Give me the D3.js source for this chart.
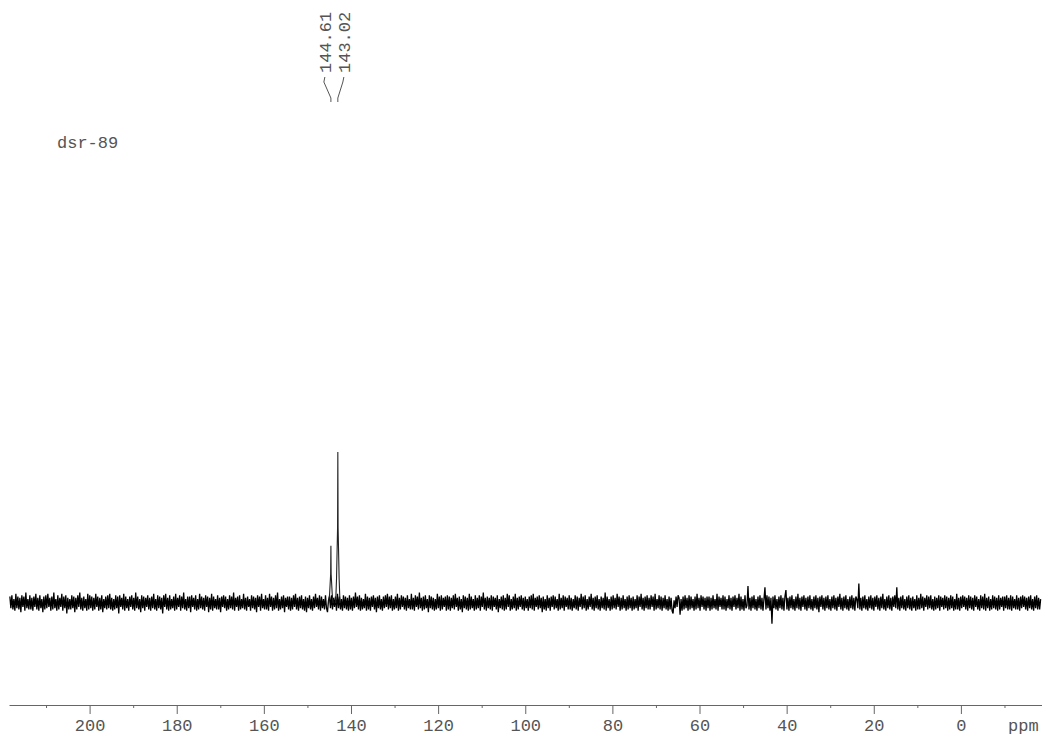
<!DOCTYPE html>
<html>
<head>
<meta charset="utf-8">
<script src="https://cdn.jsdelivr.net/npm/d3@7/dist/d3.min.js"></script>
<style>
  html, body { margin: 0; padding: 0; background: #fff; }
  svg { display: block; }
  text { font-family: "Liberation Mono", "DejaVu Sans Mono", monospace; }
</style>
</head>
<body>
<svg id="chart" width="1043" height="735"></svg>
<script>
// 13C spectrum of sample dsr-89
const sampleName = "dsr-89";
const unitLabel = "ppm";

// chemical shift window of the acquired spectrum (ppm)
const shiftStart = 218.3;
const shiftEnd = -18.3;

// baseline noise, evenly spaced across the shift window (arbitrary intensity)
const noise = [
  5,-4,6,-5,3,-6,7,-4,5,-5,4,-7,6,-3,5,-6,8,-4,3,-5,
  6,-5,4,-6,5,-3,7,-5,4,-6,6,-4,3,-7,5,-5,6,-4,7,-3,
  4,-6,5,-5,8,-4,3,-6,6,-5,4,-3,7,-6,5,-4,6,-8,4,-5,
  3,-5,6,-4,5,-7,4,-5,6,-3,8,-5,4,-6,5,-4,3,-6,7,-5,
  6,-4,5,-6,4,-5,7,-3,5,-6,4,-5,6,-7,3,-4,5,-5,6,-4,
  7,-5,4,-6,3,-5,6,-4,5,-8,6,-3,4,-5,7,-6,5,-4,3,-6,
  5,-3,6,-5,4,-6,8,-4,5,-5,3,-7,6,-4,5,-6,4,-3,6,-5,
  4,-6,5,-4,7,-5,3,-6,6,-4,5,-5,4,-8,6,-3,7,-5,4,-6,
  6,-5,3,-4,5,-6,7,-5,4,-3,6,-6,5,-4,8,-5,3,-6,5,-4,
  5,-7,6,-3,4,-5,6,-6,3,-5,7,-4,5,-5,4,-6,6,-3,5,-7,
  4,-5,7,-6,5,-4,3,-5,6,-5,4,-7,5,-3,6,-4,5,-6,3,-5,
  6,-4,5,-5,8,-6,4,-3,5,-6,6,-5,3,-4,7,-5,4,-6,5,-3,
  3,-6,6,-4,5,-5,4,-7,6,-3,5,-6,7,-4,3,-5,6,-5,4,-6,
  7,-3,5,-6,4,-5,6,-4,8,-6,3,-5,5,-4,6,-7,4,-3,5,-5,
  5,-6,4,-5,6,-3,7,-5,4,-6,5,-4,6,-5,3,-6,5,-7,4,-4,
  6,-5,3,-6,5,-4,7,-3,4,-5,6,-6,5,-4,3,-5,6,-4,-7,2,
  5,-4,6,-5,4,-3,5,-6,7,-4,5,-5,3,-6,6,-4,5,-5,4,-6,
  6,-5,4,-6,5,-4,8,-3,5,-5,6,-6,4,-5,3,-4,7,-6,5,-5,
  4,-6,5,-3,6,-5,4,-7,5,-4,6,-5,3,-6,5,-4,6,-3,7,-5,
  5,-4,6,-6,3,-5,5,-4,7,-6,4,-5,6,-3,5,-5,4,-6,6,-4,
  3,-5,7,-5,4,-6,6,-3,5,-5,8,-4,4,-6,5,-5,6,-4,3,-7,
  6,-4,5,-5,4,-6,3,-5,7,-4,5,-6,6,-5,4,-3,5,-6,6,-5,
  5,-6,4,-4,6,-5,7,-3,4,-6,5,-5,3,-7,6,-4,5,-5,4,-6,
  7,-5,5,-4,3,-6,6,-5,4,-4,6,-6,5,-3,8,-5,4,-6,5,-4,
  4,-5,6,-6,5,-3,4,-5,6,-7,3,-4,5,-5,6,-6,4,-5,7,-3,
  6,-6,3,-5,5,-4,7,-6,4,-5,5,-3,6,-5,4,-6,5,-4,3,-6,
  5,-4,6,-5,7,-6,4,-3,5,-5,6,-4,4,-7,5,-5,3,-6,6,-4,
  4,-6,5,-3,6,-5,5,-4,3,-6,7,-5,4,-4,6,-6,5,-3,4,-5,
  6,-5,4,-6,3,-4,6,-5,5,-6,4,-3,7,-5,5,-4,6,-6,3,-5,
  5,-3,7,-5,4,-6,5,-4,6,-5,3,-6,5,-4,4,-5,8,-6,5,-4,
  3,-6,5,-5,6,-4,4,-5,7,-3,5,-6,4,-5,6,-4,3,-6,5,-5,
  6,-4,4,-6,5,-5,3,-4,6,-6,5,-3,7,-5,4,-6,5,-4,6,-5,
  4,-5,6,-3,5,-6,7,-5,3,-4,6,-5,5,-6,4,-4,6,-5,3,-6,
  5,-5,4,-6,-8,2,-4,5,-3,6,4,-9,3,-6,5,-5,6,-4,4,-6,
  6,-5,5,-4,3,-6,5,-5,7,-4,4,-6,6,-3,5,-5,4,-6,5,-4,
  5,-6,4,-5,6,-4,3,-5,7,-6,5,-3,4,-5,6,-5,5,-6,3,-4,
  6,-5,4,-6,5,-3,6,-5,4,-4,7,-6,5,-5,3,-6,6,-4,-2,13,
  -5,4,-6,5,-4,6,-5,3,-6,5,-4,6,-5,4,-6,3,12,-5,6,-4,
  5,-6,4,-16,5,-4,6,-5,3,-6,5,-4,6,-5,4,-6,5,10,-5,4,
  -6,5,-4,6,-5,3,-6,5,-4,7,-5,4,-6,5,-3,6,-5,4,-6,5,
  -4,6,-5,3,-6,5,-4,6,-5,4,-7,5,-3,6,-5,4,-6,5,-4,6,
  -5,3,-6,5,-4,6,-5,4,-6,5,-3,7,-5,4,-6,5,-4,6,-5,3,
  -6,5,-4,6,-5,4,-6,5,3,-4,15,-5,4,-6,5,-4,6,-5,3,-6,
  5,-4,6,-5,4,-6,5,-3,6,-5,4,-6,5,-4,7,-5,3,-6,5,-4,
  6,-5,4,-6,5,-3,6,-4,12,-5,4,-6,5,-4,6,-5,3,-6,5,-4,
  6,-5,4,-6,5,-4,3,-6,6,-5,4,-5,7,-4,5,-6,4,-3,6,-5,
  5,-4,6,-5,3,-6,5,-5,4,-4,6,-6,5,-3,4,-5,6,-4,5,-6,
  4,-5,6,-4,5,-6,3,-5,7,-5,4,-6,5,-4,6,-3,5,-5,4,-6,
  6,-4,5,-5,4,-6,6,-3,5,-5,3,-6,6,-4,5,-5,7,-6,4,-4,
  5,-6,3,-5,6,-4,5,-5,4,-6,6,-5,4,-3,5,-6,5,-4,6,-5,
  4,-5,6,-6,5,-4,3,-5,6,-5,4,-6,5,-4,6,-3,5,-5,4,-6,
  5,-4,6,-5,3,-6,5,-4,6,-5,4,-5,3
];

// resolved signals
const peakPpm = [144.61, 143.02];
const peakHeight = [44, 116];
const peakLabels = ["144.61", "143.02"];

// axis ticks
const majorTicks = [200, 180, 160, 140, 120, 100, 80, 60, 40, 20, 0];
const minorTicks = [210, 190, 170, 150, 130, 110, 90, 70, 50, 30, 10, -10];

const svg = d3.select("#chart");
const axisY = 705;
const fontSize = 17;
const textColor = "#555";

const x = d3.scaleLinear().domain([218.5, -18.5]).range([9, 1041.5]);
const y = d3.scaleLinear().domain([0, 116]).range([603, 452]);

// spectrum trace
const step = (shiftStart - shiftEnd) / (noise.length - 1);
const trace = noise.map((v, i) => [shiftStart - i * step, v]);
const line = d3.line().x(d => x(d[0])).y(d => y(d[1]));

svg.append("path")
  .datum(trace)
  .attr("d", line)
  .attr("fill", "none")
  .attr("stroke", "#000")
  .attr("stroke-width", 1.3);

// signal lineshapes
const shapeOffset = [0.5, 0.3, 0.06, 0];
const shapeFrac = [0, 0.16, 0.5, 1];
peakPpm.forEach((p, k) => {
  const pts = [];
  shapeOffset.forEach((o, j) => pts.push([p + o, peakHeight[k] * shapeFrac[j]]));
  for (let j = shapeOffset.length - 2; j >= 0; j--) pts.push([p - shapeOffset[j], peakHeight[k] * shapeFrac[j]]);
  svg.append("path")
    .datum(pts)
    .attr("d", line)
    .attr("fill", "none")
    .attr("stroke", "#222")
    .attr("stroke-width", 1.1);
});

// peak labels with connectors
const mid = d3.mean(peakPpm, p => x(p));
const labelGap = 19;
peakPpm.forEach((p, k) => {
  const lx = mid + (k - (peakPpm.length - 1) / 2) * labelGap;
  const px = x(p);
  svg.append("path")
    .attr("d", d3.line()([[lx, 77], [lx - 1, 82], [px, 98], [px, 102]]))
    .attr("fill", "none")
    .attr("stroke", textColor)
    .attr("stroke-width", 1);
  svg.append("text")
    .attr("transform", `translate(${lx},73) rotate(-90)`)
    .attr("dy", "0.35em")
    .attr("font-size", fontSize)
    .attr("fill", textColor)
    .text(peakLabels[k]);
});

// sample name
svg.append("text")
  .attr("x", 57)
  .attr("y", 148)
  .attr("font-size", fontSize)
  .attr("fill", textColor)
  .text(sampleName);

// x axis
const gAxis = svg.append("g").attr("transform", `translate(0,${axisY})`);
gAxis.call(d3.axisBottom(x).tickValues(majorTicks).tickSize(9).tickSizeOuter(0).tickFormat(d3.format("d")));
gAxis.select(".domain").attr("stroke", "#666");
gAxis.selectAll(".tick line").attr("stroke", "#666");
gAxis.selectAll(".tick text")
  .attr("y", 25.5)
  .attr("dy", 0)
  .attr("font-size", fontSize)
  .attr("font-family", "Liberation Mono, DejaVu Sans Mono, monospace")
  .attr("fill", textColor);

const gMinor = svg.append("g").attr("transform", `translate(0,${axisY})`);
gMinor.call(d3.axisBottom(x).tickValues(minorTicks).tickSize(3).tickSizeOuter(0).tickFormat(""));
gMinor.select(".domain").remove();
gMinor.selectAll(".tick line").attr("stroke", "#666");

svg.append("text")
  .attr("x", 1008)
  .attr("y", axisY + 25.5)
  .attr("font-size", fontSize)
  .attr("fill", textColor)
  .text(unitLabel);
</script>
</body>
</html>
